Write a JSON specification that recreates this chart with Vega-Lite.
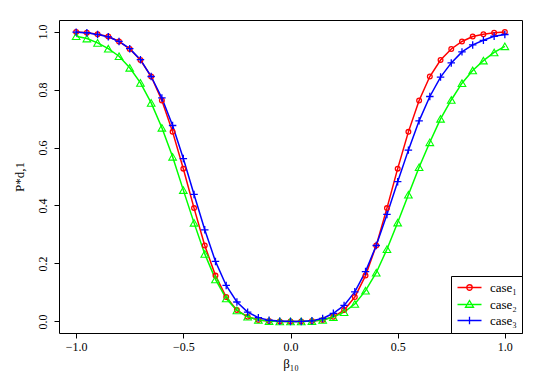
{
  "$schema": "https://vega.github.io/schema/vega-lite/v6.json",
  "width": 463,
  "height": 313,
  "autosize": "none",
  "padding": {"left": 59, "top": 20, "right": 30, "bottom": 50},
  "background": "white",
  "config": {
    "view": {"stroke": "black", "strokeWidth": 1},
    "axis": {
      "domain": false, "grid": false, "ticks": true, "tickColor": "black", "tickSize": 5, "tickWidth": 1,
      "labelFont": "Liberation Serif", "labelFontSize": 12, "labelColor": "black",
      "titleFont": "Liberation Serif", "titleFontSize": 13, "titleFontWeight": "normal", "titleColor": "black"
    },
    "legend": {"labelFont": "Liberation Serif", "labelFontSize": 13, "labelColor": "black"}
  },
  "data": {"values": [
    {"x": -1.00, "p": 0.999, "case": "case₁"}, {"x": -0.95, "p": 0.996, "case": "case₁"}, {"x": -0.90, "p": 0.991, "case": "case₁"},
    {"x": -0.85, "p": 0.983, "case": "case₁"}, {"x": -0.80, "p": 0.966, "case": "case₁"}, {"x": -0.75, "p": 0.940, "case": "case₁"},
    {"x": -0.70, "p": 0.902, "case": "case₁"}, {"x": -0.65, "p": 0.845, "case": "case₁"}, {"x": -0.60, "p": 0.762, "case": "case₁"},
    {"x": -0.55, "p": 0.654, "case": "case₁"}, {"x": -0.50, "p": 0.527, "case": "case₁"}, {"x": -0.45, "p": 0.391, "case": "case₁"},
    {"x": -0.40, "p": 0.262, "case": "case₁"}, {"x": -0.35, "p": 0.158, "case": "case₁"}, {"x": -0.30, "p": 0.084, "case": "case₁"},
    {"x": -0.25, "p": 0.039, "case": "case₁"}, {"x": -0.20, "p": 0.016, "case": "case₁"}, {"x": -0.15, "p": 0.005, "case": "case₁"},
    {"x": -0.10, "p": 0.001, "case": "case₁"}, {"x": -0.05, "p": 0.000, "case": "case₁"}, {"x": 0.00, "p": 0.000, "case": "case₁"},
    {"x": 0.05, "p": 0.000, "case": "case₁"}, {"x": 0.10, "p": 0.001, "case": "case₁"}, {"x": 0.15, "p": 0.005, "case": "case₁"},
    {"x": 0.20, "p": 0.016, "case": "case₁"}, {"x": 0.25, "p": 0.039, "case": "case₁"}, {"x": 0.30, "p": 0.084, "case": "case₁"},
    {"x": 0.35, "p": 0.158, "case": "case₁"}, {"x": 0.40, "p": 0.262, "case": "case₁"}, {"x": 0.45, "p": 0.391, "case": "case₁"},
    {"x": 0.50, "p": 0.527, "case": "case₁"}, {"x": 0.55, "p": 0.654, "case": "case₁"}, {"x": 0.60, "p": 0.762, "case": "case₁"},
    {"x": 0.65, "p": 0.845, "case": "case₁"}, {"x": 0.70, "p": 0.902, "case": "case₁"}, {"x": 0.75, "p": 0.940, "case": "case₁"},
    {"x": 0.80, "p": 0.966, "case": "case₁"}, {"x": 0.85, "p": 0.983, "case": "case₁"}, {"x": 0.90, "p": 0.991, "case": "case₁"},
    {"x": 0.95, "p": 0.996, "case": "case₁"}, {"x": 1.00, "p": 0.999, "case": "case₁"},

    {"x": -1.00, "p": 0.984, "case": "case₂"}, {"x": -0.95, "p": 0.976, "case": "case₂"}, {"x": -0.90, "p": 0.961, "case": "case₂"},
    {"x": -0.85, "p": 0.941, "case": "case₂"}, {"x": -0.80, "p": 0.915, "case": "case₂"}, {"x": -0.75, "p": 0.875, "case": "case₂"},
    {"x": -0.70, "p": 0.823, "case": "case₂"}, {"x": -0.65, "p": 0.754, "case": "case₂"}, {"x": -0.60, "p": 0.668, "case": "case₂"},
    {"x": -0.55, "p": 0.568, "case": "case₂"}, {"x": -0.50, "p": 0.453, "case": "case₂"}, {"x": -0.45, "p": 0.340, "case": "case₂"},
    {"x": -0.40, "p": 0.233, "case": "case₂"}, {"x": -0.35, "p": 0.145, "case": "case₂"}, {"x": -0.30, "p": 0.079, "case": "case₂"},
    {"x": -0.25, "p": 0.038, "case": "case₂"}, {"x": -0.20, "p": 0.016, "case": "case₂"}, {"x": -0.15, "p": 0.005, "case": "case₂"},
    {"x": -0.10, "p": 0.001, "case": "case₂"}, {"x": -0.05, "p": 0.000, "case": "case₂"}, {"x": 0.00, "p": 0.000, "case": "case₂"},
    {"x": 0.05, "p": 0.000, "case": "case₂"}, {"x": 0.10, "p": 0.001, "case": "case₂"}, {"x": 0.15, "p": 0.005, "case": "case₂"},
    {"x": 0.20, "p": 0.015, "case": "case₂"}, {"x": 0.25, "p": 0.032, "case": "case₂"}, {"x": 0.30, "p": 0.060, "case": "case₂"},
    {"x": 0.35, "p": 0.106, "case": "case₂"}, {"x": 0.40, "p": 0.168, "case": "case₂"}, {"x": 0.45, "p": 0.249, "case": "case₂"},
    {"x": 0.50, "p": 0.341, "case": "case₂"}, {"x": 0.55, "p": 0.437, "case": "case₂"}, {"x": 0.60, "p": 0.532, "case": "case₂"},
    {"x": 0.65, "p": 0.618, "case": "case₂"}, {"x": 0.70, "p": 0.699, "case": "case₂"}, {"x": 0.75, "p": 0.764, "case": "case₂"},
    {"x": 0.80, "p": 0.822, "case": "case₂"}, {"x": 0.85, "p": 0.866, "case": "case₂"}, {"x": 0.90, "p": 0.900, "case": "case₂"},
    {"x": 0.95, "p": 0.928, "case": "case₂"}, {"x": 1.00, "p": 0.949, "case": "case₂"},

    {"x": -1.00, "p": 0.998, "case": "case₃"}, {"x": -0.95, "p": 0.996, "case": "case₃"}, {"x": -0.90, "p": 0.990, "case": "case₃"},
    {"x": -0.85, "p": 0.982, "case": "case₃"}, {"x": -0.80, "p": 0.966, "case": "case₃"}, {"x": -0.75, "p": 0.941, "case": "case₃"},
    {"x": -0.70, "p": 0.903, "case": "case₃"}, {"x": -0.65, "p": 0.845, "case": "case₃"}, {"x": -0.60, "p": 0.771, "case": "case₃"},
    {"x": -0.55, "p": 0.676, "case": "case₃"}, {"x": -0.50, "p": 0.562, "case": "case₃"}, {"x": -0.45, "p": 0.438, "case": "case₃"},
    {"x": -0.40, "p": 0.316, "case": "case₃"}, {"x": -0.35, "p": 0.207, "case": "case₃"}, {"x": -0.30, "p": 0.124, "case": "case₃"},
    {"x": -0.25, "p": 0.067, "case": "case₃"}, {"x": -0.20, "p": 0.032, "case": "case₃"}, {"x": -0.15, "p": 0.013, "case": "case₃"},
    {"x": -0.10, "p": 0.004, "case": "case₃"}, {"x": -0.05, "p": 0.001, "case": "case₃"}, {"x": 0.00, "p": 0.000, "case": "case₃"},
    {"x": 0.05, "p": 0.000, "case": "case₃"}, {"x": 0.10, "p": 0.002, "case": "case₃"}, {"x": 0.15, "p": 0.010, "case": "case₃"},
    {"x": 0.20, "p": 0.028, "case": "case₃"}, {"x": 0.25, "p": 0.055, "case": "case₃"}, {"x": 0.30, "p": 0.102, "case": "case₃"},
    {"x": 0.35, "p": 0.172, "case": "case₃"}, {"x": 0.40, "p": 0.262, "case": "case₃"}, {"x": 0.45, "p": 0.369, "case": "case₃"},
    {"x": 0.50, "p": 0.482, "case": "case₃"}, {"x": 0.55, "p": 0.591, "case": "case₃"}, {"x": 0.60, "p": 0.692, "case": "case₃"},
    {"x": 0.65, "p": 0.776, "case": "case₃"}, {"x": 0.70, "p": 0.843, "case": "case₃"}, {"x": 0.75, "p": 0.892, "case": "case₃"},
    {"x": 0.80, "p": 0.930, "case": "case₃"}, {"x": 0.85, "p": 0.954, "case": "case₃"}, {"x": 0.90, "p": 0.970, "case": "case₃"},
    {"x": 0.95, "p": 0.984, "case": "case₃"}, {"x": 1.00, "p": 0.990, "case": "case₃"}
  ]},
  "encoding": {
    "x": {"field": "x", "type": "quantitative",
      "scale": {"domain": [-1.08, 1.08], "nice": false, "zero": false},
      "axis": {"values": [-1, -0.5, 0, 0.5, 1], "format": ".1f", "labelPadding": 3, "title": "β₁₀", "titlePadding": 5}},
    "y": {"field": "p", "type": "quantitative",
      "scale": {"domain": [-0.04, 1.04], "nice": false, "zero": false},
      "axis": {"values": [0, 0.2, 0.4, 0.6, 0.8, 1.0], "format": ".1f", "labelAngle": 270, "labelAlign": "center", "labelBaseline": "bottom", "labelPadding": 5, "title": "P*d,1", "titlePadding": 10}},
    "color": {"field": "case", "type": "nominal",
      "scale": {"domain": ["case₁", "case₂", "case₃"], "range": ["#FF0000", "#00FF00", "#0000FF"]},
      "legend": {
        "orient": "bottom-right", "offset": 0, "title": null, "strokeColor": "black", "fillColor": "white",
        "padding": 5, "symbolSize": 100, "symbolStrokeWidth": 1.3, "symbolFillColor": "transparent", "symbolOpacity": 1,
        "labelFont": "Liberation Serif", "labelFontSize": 13, "labelColor": "black", "labelOffset": 21, "rowPadding": 2
      }}
  },
  "layer": [
    {"mark": {"type": "line", "strokeWidth": 1.5}},
    {"transform": [{"filter": "datum.case === 'case₁'"}],
     "mark": {"type": "point", "shape": "circle", "size": 22, "filled": false, "strokeWidth": 1.3, "opacity": 1}},
    {"transform": [{"filter": "datum.case === 'case₂'"}],
     "mark": {"type": "point", "shape": "triangle-up", "size": 58, "filled": false, "strokeWidth": 1.1, "opacity": 1}},
    {"transform": [{"filter": "datum.case === 'case₃'"}],
     "mark": {"type": "point", "shape": "M-1,0L1,0M0,-1L0,1", "size": 56, "filled": false, "strokeWidth": 1.3, "opacity": 1}},
    {"transform": [{"filter": "false"}],
     "mark": {"type": "point", "filled": false, "opacity": 1},
     "encoding": {
       "shape": {"field": "case", "type": "nominal",
         "scale": {"domain": ["case₁", "case₂", "case₃"], "range": [
           "M-1,0L3.8,0M1.95,0A0.55,0.55,0,1,1,0.85,0A0.55,0.55,0,1,1,1.95,0",
           "M-1,0L3.8,0M1.4,-0.8L2.2,0.55L0.6,0.55Z",
           "M-1,0L3.8,0M1.4,-0.75L1.4,0.75"]},
         "legend": {
           "orient": "bottom-right", "offset": 0, "title": null, "strokeColor": "black", "fillColor": "white",
           "padding": 5, "symbolSize": 100, "symbolStrokeWidth": 1.3, "symbolFillColor": "transparent", "symbolOpacity": 1,
           "labelFont": "Liberation Serif", "labelFontSize": 13, "labelColor": "black", "labelOffset": 21, "rowPadding": 2
         }}
     }}
  ]
}
